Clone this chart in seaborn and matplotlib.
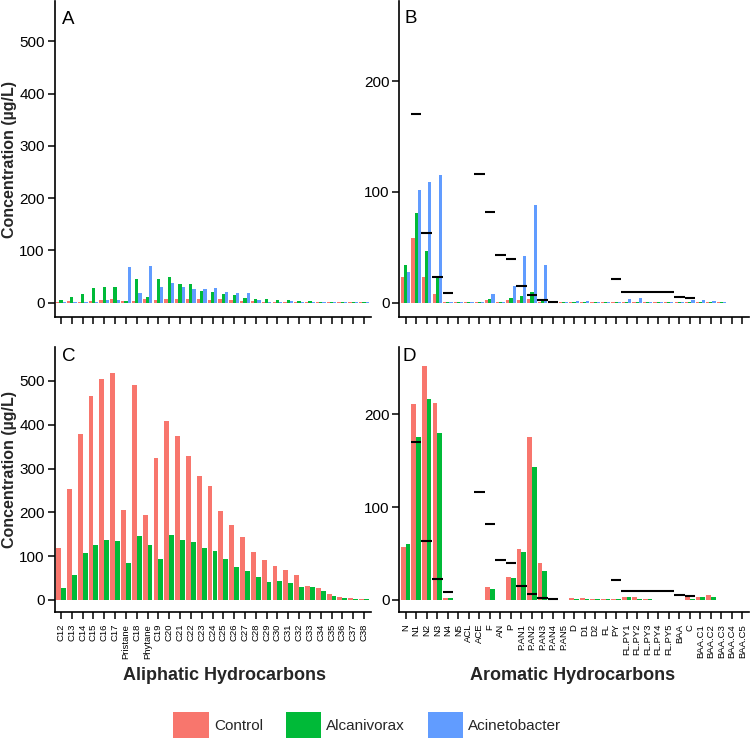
import numpy as np
import pandas as pd
import matplotlib
matplotlib.use("Agg")
import matplotlib.pyplot as plt
import seaborn as sns
from matplotlib.patches import Patch

sns.set_theme(style="ticks")
plt.rcParams["font.family"] = ["Liberation Sans", "DejaVu Sans"]

# ---------------- data ----------------
strains = ["Control", "Alcanivorax", "Acinetobacter"]
colors = ["#F8766D", "#00BA38", "#619CFF"]

ali_cats = ["C12", "C13", "C14", "C15", "C16", "C17", "Pristane", "C18", "Phytane",
            "C19", "C20", "C21", "C22", "C23", "C24", "C25", "C26", "C27", "C28",
            "C29", "C30", "C31", "C32", "C33", "C34", "C35", "C36", "C37", "C38"]

A_control = [1, 3, 1.5, 3, 5, 8, 4, 4, 8, 5, 8, 8, 8, 7, 5, 7, 5, 4, 4, 2, 1, 2, 1,
             0.5, 1, 0.5, 0.5, 0.5, 0.5]
A_alcan = [5, 10, 16, 29, 30.6, 30, 4, 45, 10, 45, 49, 36, 36, 23, 20, 16.5, 14.6, 9.5,
           8, 7, 5, 5, 3, 3, 0.5, 2, 1, 1, 0.5]
A_acin = [0.5, 0.5, 0.5, 2, 4.5, 5, 68, 18.5, 71, 31, 38, 31, 27, 25.5, 29, 20, 18.5, 18,
          5, 2, 1, 3, 0.5, 0.5, 2, 1, 1, 0.5, 0.5]

C_control = [119.5, 254, 380, 466, 505, 517.5, 205, 490, 195, 324, 408, 374, 329, 282,
             261, 203, 170, 143, 110, 90.5, 77, 68.5, 57, 33, 27, 13, 7.6, 4, 3]
C_alcan = [27, 58, 106.5, 125, 136, 135, 84, 145, 125, 94, 149, 137, 133, 119, 112, 94,
           76, 65, 52.5, 42, 42.6, 38, 30, 29, 21, 9, 5, 3, 2]

aro_cats = ["N", "N1", "N2", "N3", "N4", "N5", "ACL", "ACE", "F", "AN", "P",
            "P.AN1", "P.AN2", "P.AN3", "P.AN4", "P.AN5", "D", "D1", "D2", "FL", "PY",
            "FL.PY1", "FL.PY2", "FL.PY3", "FL.PY4", "FL.PY5", "BAA", "C",
            "BAA.C1", "BAA.C2", "BAA.C3", "BAA.C4", "BAA.C5"]

B_control = [23, 58, 23, 8, 0.5, 0.2, 0.3, 0.2, 2, 0.2, 2, 2.5, 3.5, 1, 0.3, 0.2, 0.8,
             0.8, 0.3, 0.3, 0.3, 1, 1, 0.3, 0.2, 0.2, 0.2, 0.8, 0.8, 0.6, 0.2, 0.1, 0.1]
B_alcan = [34, 80.5, 47, 23, 0.5, 0.2, 0.3, 0.2, 3, 0.2, 4, 6, 10, 2, 0.3, 0.2, 0.8, 0.6,
           0.3, 0.3, 0.5, 1, 1, 0.3, 0.2, 0.2, 0.2, 0.6, 0.6, 0.5, 0.2, 0.1, 0.1]
B_acin = [28, 102, 109, 115, 1, 0.3, 0.3, 0.2, 8, 0.2, 15, 42, 88, 34, 0.3, 0.2, 1.2,
          1.3, 0.5, 0.4, 0.5, 3, 3.8, 0.5, 0.3, 0.3, 0.3, 2, 2, 1.3, 0.3, 0.1, 0.1]

D_control = [57, 211, 252.5, 212, 2.5, 0.3, 0.3, 0.3, 13.7, 0.3, 24.5, 55.4, 175, 39.6,
             0.5, 0.3, 2, 2, 0.5, 0.5, 1, 3.2, 3.6, 0.5, 0.3, 0.3, 0.3, 3, 3.6, 5.4,
             0.3, 0.2, 0.2]
D_alcan = [60, 175, 216.5, 180, 2.5, 0.3, 0.3, 0.3, 12.2, 0.3, 23.4, 51.8, 143, 31, 0.5,
           0.3, 1.4, 1, 0.5, 0.5, 0.8, 3.6, 0.8, 0.5, 0.3, 0.3, 0.3, 0.8, 3.6, 3, 0.3,
           0.2, 0.2]

thr_cats = ["N1", "N2", "N3", "N4", "ACE", "F", "AN", "P", "P.AN1", "P.AN2", "P.AN3",
            "P.AN4", "PY", "FL.PY1", "FL.PY2", "FL.PY3", "FL.PY4", "FL.PY5", "BAA", "C"]
thr_vals = [170, 63, 23, 8.3, 116, 82, 43, 39.5, 15, 6.5, 2.4, 0.9, 21, 10, 10, 10, 10,
            10, 4.8, 4]

ylab = "Concentration (µg/L)"
ali_title = "Aliphatic Hydrocarbons"
aro_title = "Aromatic Hydrocarbons"
panel_labels = ["A", "B", "C", "D"]

# ---------------- helpers ----------------
W, H = 750, 743
pal = dict(zip(strains, colors))


def make_df(cats, series):
    rows = []
    for name, vals in series:
        for c, v in zip(cats, vals):
            rows.append({"compound": c, "strain": name, "conc": v})
    return pd.DataFrame(rows)


def px_axes(fig, left, right, top, bottom):
    return fig.add_axes([left / W, 1 - bottom / H, (right - left) / W, (bottom - top) / H])


fig = plt.figure(figsize=(W / 100, H / 100), dpi=100)
fig.patch.set_facecolor("white")

axA = px_axes(fig, 54.5, 370.5, 0.7, 317.1)
axB = px_axes(fig, 399.4, 748.7, 0.7, 317.1)
axC = px_axes(fig, 54.5, 370.5, 347.0, 612.0)
axD = px_axes(fig, 399.4, 748.7, 347.0, 612.0)

dfA = make_df(ali_cats, [("Control", A_control), ("Alcanivorax", A_alcan), ("Acinetobacter", A_acin)])
dfC = make_df(ali_cats, [("Control", C_control), ("Alcanivorax", C_alcan)])
dfB = make_df(aro_cats, [("Control", B_control), ("Alcanivorax", B_alcan), ("Acinetobacter", B_acin)])
dfD = make_df(aro_cats, [("Control", D_control), ("Alcanivorax", D_alcan)])

for ax, df, cats, hues in [(axA, dfA, ali_cats, strains), (axC, dfC, ali_cats, strains[:2]),
                           (axB, dfB, aro_cats, strains), (axD, dfD, aro_cats, strains[:2])]:
    sns.barplot(data=df, x="compound", y="conc", hue="strain", order=cats, hue_order=hues,
                palette=pal, width=0.9, saturation=1, errorbar=None, legend=False,
                linewidth=0, ax=ax)
    ax.set_xlim(-0.6, len(cats) - 0.4)
    ax.set_xlabel("")
    ax.set_ylabel("")
    for s in ["top", "right"]:
        ax.spines[s].set_visible(False)
    for s in ["left", "bottom"]:
        ax.spines[s].set_color("black")
        ax.spines[s].set_linewidth(1.2)
    ax.tick_params(axis="both", direction="out", length=5, width=1.1, color="black",
                   labelcolor="black", bottom=True, left=True)
    ax.tick_params(axis="y", labelsize=11, pad=2)
    ax.set_facecolor("white")

for ax in (axA, axC):
    ax.set_ylim(-27.5, 577.5)
    ax.set_yticks([0, 100, 200, 300, 400, 500])
for ax in (axB, axD):
    ax.set_ylim(-13, 272.5)
    ax.set_yticks([0, 100, 200])
    for c, v in zip(thr_cats, thr_vals):
        i = aro_cats.index(c)
        ax.hlines(v, i - 0.5, i + 0.5, colors="black", linewidth=1.5, zorder=5)

for ax in (axA, axB):
    ax.set_xticks(range(len(ax.get_xticks())))
    ax.set_xticklabels([])

axC.set_xticks(range(len(ali_cats)))
axC.set_xticklabels(ali_cats, rotation=90, fontsize=6.8, ha="center", va="top")
axD.set_xticks(range(len(aro_cats)))
axD.set_xticklabels(aro_cats, rotation=90, fontsize=6.8, ha="center", va="top")

# panel letters
for lab, (x, y) in zip(panel_labels, [(62, 20), (405, 18.5), (62, 356.5), (403, 356.5)]):
    fig.text(x / W, 1 - y / H, lab, fontsize=13.5, ha="left", va="center", color="black")

# y labels
fig.text(10 / W, 1 - 159 / H, ylab, rotation=90, fontsize=11.5, fontweight="bold",
         ha="center", va="center")
fig.text(10 / W, 1 - 470 / H, ylab, rotation=90, fontsize=11.5, fontweight="bold",
         ha="center", va="center")

# x titles
fig.text(224 / W, 1 - 675 / H, ali_title, fontsize=13, fontweight="bold", ha="center", va="center")
fig.text(573 / W, 1 - 675 / H, aro_title, fontsize=13, fontweight="bold", ha="center", va="center")

handles = [Patch(facecolor=pal[s], edgecolor="none", label=s) for s in strains]
fig.legend(handles=handles, loc="center", bbox_to_anchor=(367.5 / W, 1 - 725 / H), ncol=3,
           frameon=False, fontsize=11, handlelength=2.3, handleheight=2.2,
           handletextpad=0.35, columnspacing=1.5)

fig.savefig("out.png", dpi=100, facecolor="white")
